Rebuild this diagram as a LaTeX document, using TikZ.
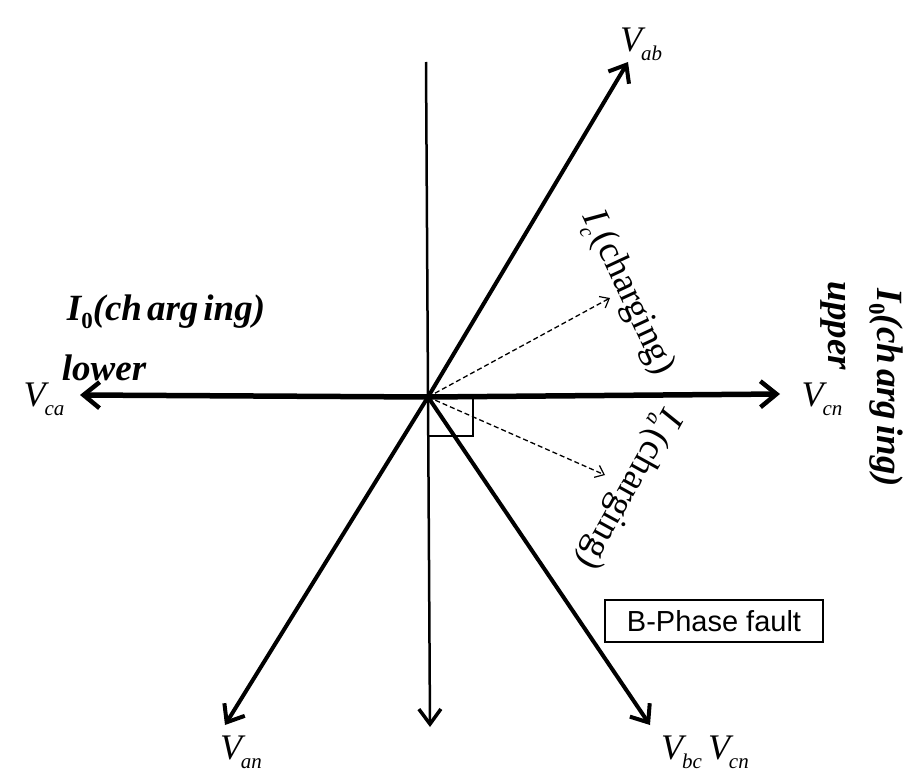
\documentclass[tikz,border=0pt]{standalone}
\usepackage{fontspec}
\setmainfont{Liberation Serif}
\newfontfamily\arialf{Liberation Sans}
\usetikzlibrary{arrows.meta}
\newcommand\vlab[2]{{\itshape #1}\kern-1pt\raisebox{-9pt}{\fontsize{21}{21}\selectfont\itshape #2}}
\newcommand\blab[2]{{\bfseries\itshape #1}\raisebox{-8pt}{\fontsize{23}{23}\selectfont\bfseries\upshape #2}}
\newcommand\chg{(ch\kern5pt arg\kern5pt ing)}
\begin{document}
\begin{tikzpicture}[x=1pt,y=-1pt,
  phasor/.style={line width=4pt,-{Straight Barb[length=15pt,width=24pt,line width=4pt]}},
  hphasor/.style={line width=5.5pt,-{Straight Barb[length=16pt,width=26pt,line width=4.5pt]}},
  dasharrow/.style={line width=1.3pt,dash pattern=on 5pt off 3pt,-{Straight Barb[length=8pt,width=13pt,line width=1.2pt]}},
  vtext/.style={font=\fontsize{36}{36}\selectfont, inner sep=0pt},
  btext/.style={font=\fontsize{37}{37}\selectfont\bfseries\itshape, inner sep=0pt},
  ctext/.style={font=\fontsize{37}{37}\selectfont, inner sep=0pt}]
\useasboundingbox[fill=white] (0,0) rectangle (908,776);
\coordinate (O) at (428,397);
\coordinate (top) at (426,62);
\coordinate (bot) at (430,727);
\coordinate (ab) at (628,62);
\coordinate (ca) at (80,395);
\coordinate (cn) at (780,394);
\coordinate (an) at (225,725);
\coordinate (bc) at (650,725);
\coordinate (ic) at (610,298);
\coordinate (ia) at (605,475);
\coordinate (sq) at (473,436);
% axes
\draw[line width=2.5pt,-{Straight Barb[length=15pt,width=22pt,line width=3.5pt]}] (top) -- (bot);
\draw[hphasor] (O) -- (ca);
\draw[hphasor] (O) -- (cn);
\draw[phasor] (O) -- (ab);
\draw[phasor] (O) -- (an);
\draw[phasor] (O) -- (bc);
\draw[dasharrow] (O) -- (ic);
\draw[dasharrow] (O) -- (ia);
\draw[line width=1.3pt] (O) rectangle (sq);
% labels
\node[vtext] (lab) at (641,44) {\vlab{V}{ab}};
\node[vtext] (lca) at (44,399) {\vlab{V}{ca}};
\node[vtext] (lcn) at (822,399) {\vlab{V}{cn}};
\node[vtext] (lan) at (241,752) {\vlab{V}{an}};
\node[vtext] (lbc) at (705,752) {\vlab{V}{bc}\kern6pt\vlab{V}{cn}};
\node[btext] (i0l) at (166,312) {\blab{I}{0}\chg};
\node[btext] (low) at (104,368) {lower};
\node[btext,rotate=-90] (upp) at (833,326) {upper};
\node[btext,rotate=-90] (i0r) at (886,388) {\blab{I}{0}\chg};
\node[ctext,rotate=-65] (icl) at (627,293) {\vlab{I}{c}\kern3pt(charging)};
\node[ctext,rotate=-119] (ial) at (628,488) {\vlab{I}{a}\kern3pt(charging)};
\node[draw,line width=2pt,minimum width=218pt,minimum height=42pt,inner sep=0pt,font=\arialf\fontsize{29}{29}\selectfont] (bpf) at (714,621) {B-Phase fault};
\end{tikzpicture}
\end{document}
